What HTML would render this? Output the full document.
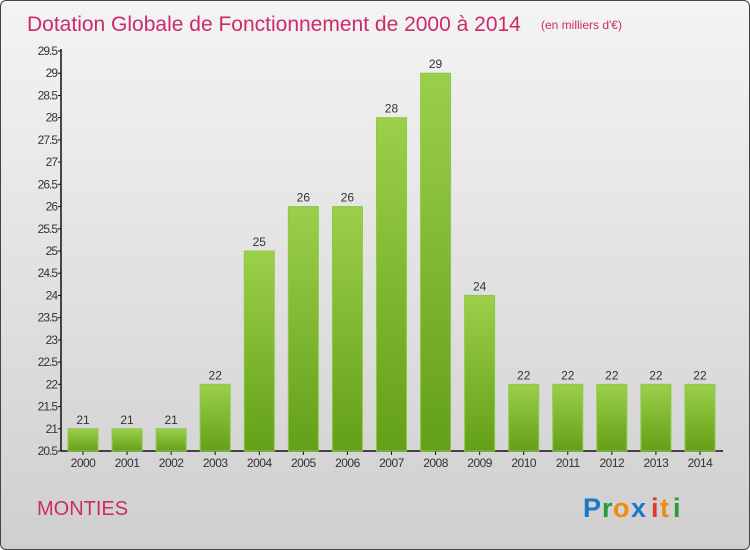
<!DOCTYPE html>
<html><head><meta charset="utf-8"><style>
body{margin:0}
#c{position:relative;width:748px;height:548px;border:1px solid #444;border-radius:6px;overflow:hidden;background:linear-gradient(#f4f4f4,#cfcfcf);font-family:"Liberation Sans",sans-serif}
</style></head><body>
<div id="c">
<svg width="748" height="548">
<defs><linearGradient id="g" x1="0" y1="0" x2="0" y2="1"><stop offset="0" stop-color="#9ccf4a"/><stop offset="1" stop-color="#63a017"/></linearGradient></defs>
<text x="26" y="30" font-size="21" fill="#cc2a6a">Dotation Globale de Fonctionnement de 2000 à 2014</text>
<text x="540" y="28" font-size="12" fill="#cc2a6a">(en milliers d'€)</text>
<g id="ax"></g><g id="bars"></g>
<text x="36" y="514" font-size="20" fill="#cc2a6a">MONTIES</text>
<g font-size="27" font-weight="bold">
<text x="582" y="516" fill="#1a78c8">P</text><text x="601" y="516" fill="#2a9a3a">r</text><text x="612" y="516" fill="#f08a10">o</text><text x="630" y="516" fill="#1a78c8">x</text><text x="650" y="516" fill="#e03a20">i</text><text x="659" y="516" fill="#f08a10">t</text><text x="672" y="516" fill="#2a9a3a">i</text></g>
</svg></div>
<script>
const years=["2000","2001","2002","2003","2004","2005","2006","2007","2008","2009","2010","2011","2012","2013","2014"];
const values=[21,21,21,22,25,26,26,28,29,24,22,22,22,22,22];
const ticks=[20.5,21,21.5,22,22.5,23,23.5,24,24.5,25,25.5,26,26.5,27,27.5,28,28.5,29,29.5];
const NS="http://www.w3.org/2000/svg";
const y=v=>450-(v-20.5)*(400/9);
const x=i=>82+i*44.07;
function mk(t,a,p,txt){const e=document.createElementNS(NS,t);for(const k in a)e.setAttribute(k,a[k]);if(txt!==undefined)e.textContent=txt;p.appendChild(e);return e;}
const ax=document.getElementById('ax'),bg=document.getElementById('bars');
let l=mk('line',{x1:60,y1:48,x2:60,y2:450,stroke:'#111','stroke-width':1.5},ax);


l=mk('line',{x1:60,y1:450,x2:722,y2:450,stroke:'#111','stroke-width':1.5},ax);


ticks.forEach(t=>{mk('line',{x1:57,y1:y(t),x2:60,y2:y(t),stroke:'#111'},ax);
const e=mk('text',{x:56,y:y(t)+4,'text-anchor':'end','font-size':12,fill:'#333','letter-spacing':'-1'},ax,String(t));

});
years.forEach((yr,i)=>{const v=values[i];
const r=mk('rect',{x:x(i)-15,y:y(v),width:30,height:450-y(v),fill:'url(#g)',stroke:'#8cc84a','stroke-width':1},bg);


const t=mk('text',{x:x(i),y:y(v)-5,'text-anchor':'middle','font-size':12,fill:'#333'},bg,String(v));


mk('line',{x1:x(i),y1:450,x2:x(i),y2:454,stroke:'#111'},ax);
const xl=mk('text',{x:x(i),y:466,'text-anchor':'middle','font-size':12,fill:'#333','letter-spacing':'-0.5'},ax,yr);

});
</script></body></html>
